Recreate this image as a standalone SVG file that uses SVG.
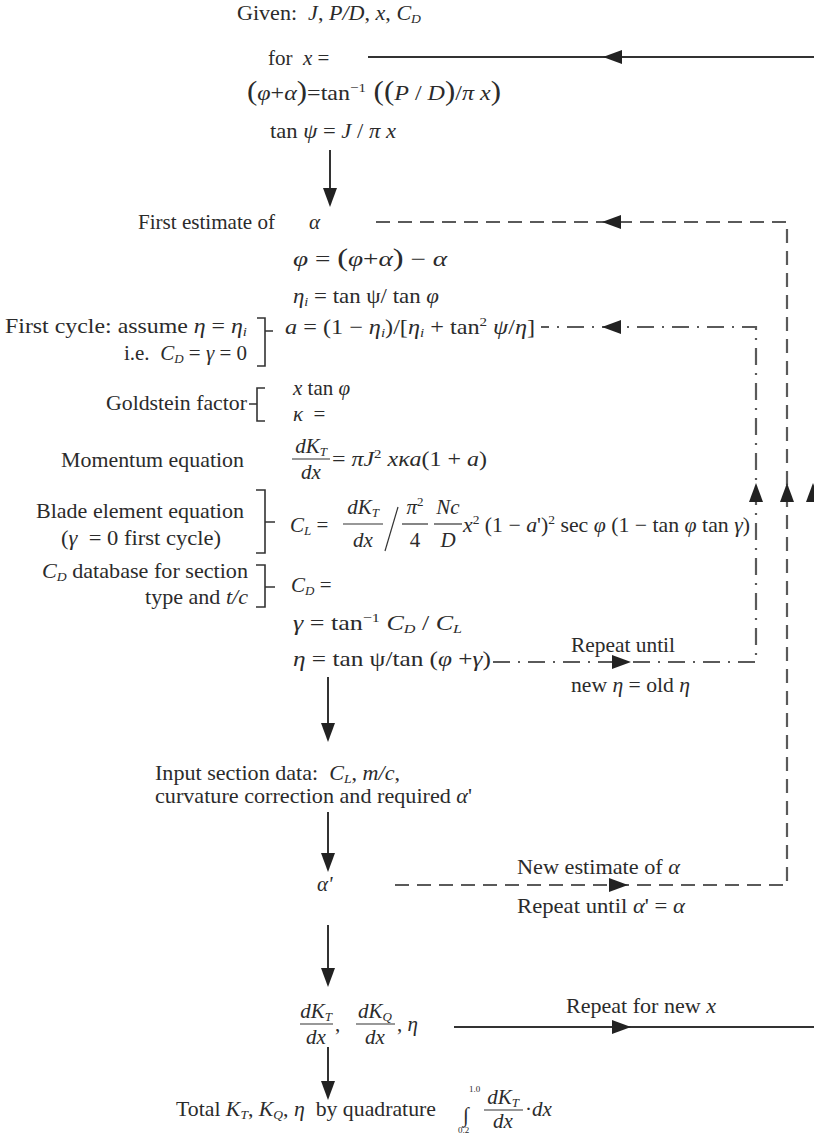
<svg xmlns="http://www.w3.org/2000/svg" width="814" height="1134" viewBox="0 0 814 1134">
<style>
text{font-family:"Liberation Serif","Times New Roman",serif;font-size:21px;fill:#2b2b2b}
.i{font-style:italic}
.s{font-size:13px}
.sm{font-size:9px}
.ln{fill:none;stroke:#333;stroke-width:2}
.da{fill:none;stroke:#5a5a5a;stroke-width:2.2;stroke-dasharray:14 8}
.dd{fill:none;stroke:#5a5a5a;stroke-width:2.2;stroke-dasharray:17 8 2 8}
.br{fill:none;stroke:#333;stroke-width:1.6}
.fb{stroke:#333;stroke-width:1.2}
</style>
<defs><path id="ah" d="M0,0 L-19,-7 L-19,7 Z" fill="#222"/></defs>
<rect width="814" height="1134" fill="#fff"/>

<g id="connectors">
<path class="ln" d="M368,57 H814"/>
<use href="#ah" transform="translate(603,57) rotate(180)"/>
<path class="ln" d="M817,1027 V57"/>
<use href="#ah" transform="translate(813,483) rotate(-90)"/>
<path class="ln" d="M330,150 V196"/>
<use href="#ah" transform="translate(330,207) rotate(90)"/>
<path class="da" d="M395,885 H787 V222 H376"/>
<use href="#ah" transform="translate(602,222) rotate(180)"/>
<use href="#ah" transform="translate(787,483) rotate(-90)"/>
<use href="#ah" transform="translate(628,885)"/>
<path class="dd" d="M493,662 H756 V327 H541"/>
<use href="#ah" transform="translate(602,327) rotate(180)"/>
<use href="#ah" transform="translate(756,483) rotate(-90)"/>
<use href="#ah" transform="translate(631,662)"/>
<path class="ln" d="M328,677 V732"/>
<use href="#ah" transform="translate(328,742) rotate(90)"/>
<path class="ln" d="M328,812 V862"/>
<use href="#ah" transform="translate(328,872) rotate(90)"/>
<path class="ln" d="M328,925 V977"/>
<use href="#ah" transform="translate(328,987) rotate(90)"/>
<path class="ln" d="M454,1027 H814"/>
<use href="#ah" transform="translate(631,1027)"/>
<path class="ln" d="M328,1047 V1090"/>
<use href="#ah" transform="translate(328,1100) rotate(90)"/>
</g>

<g id="given">
<text x="237" y="20" textLength="184" lengthAdjust="spacingAndGlyphs">Given:&#160; <tspan class="i">J</tspan>, <tspan class="i">P/D</tspan>, <tspan class="i">x</tspan>, <tspan class="i">C</tspan><tspan class="i s" dy="3">D</tspan></text>
</g>
<g id="forx">
<text x="268" y="65">for&#160; <tspan class="i">x</tspan> =</text>
<text x="247" y="100" textLength="254" lengthAdjust="spacingAndGlyphs"><tspan font-size="27">(</tspan><tspan class="i">φ</tspan>+<tspan class="i">α</tspan><tspan font-size="27">)</tspan>=tan<tspan class="s" dy="-8">−1</tspan><tspan dy="8" font-size="27"> ((</tspan><tspan class="i">P</tspan> / <tspan class="i">D</tspan><tspan font-size="27">)</tspan>/<tspan class="i">π x</tspan><tspan font-size="27">)</tspan></text>
<text x="270" y="138" textLength="126" lengthAdjust="spacingAndGlyphs">tan <tspan class="i">ψ</tspan> = <tspan class="i">J</tspan> / <tspan class="i">π x</tspan></text>
</g>

<g id="first-estimate">
<text x="138" y="229" textLength="137" lengthAdjust="spacingAndGlyphs">First estimate of</text>
<text x="309" y="229" class="i">α</text>
<text x="293" y="266" textLength="154" lengthAdjust="spacingAndGlyphs"><tspan class="i">φ</tspan> = <tspan font-size="25">(</tspan><tspan class="i">φ</tspan>+<tspan class="i">α</tspan><tspan font-size="25">)</tspan> − <tspan class="i">α</tspan></text>
<text x="293" y="303" textLength="146" lengthAdjust="spacingAndGlyphs"><tspan class="i">η</tspan><tspan class="i s" dy="3">i</tspan><tspan dy="-3"> = tan ψ/ tan </tspan><tspan class="i">φ</tspan></text>
</g>

<g id="first-cycle">
<text x="5" y="333" textLength="242" lengthAdjust="spacingAndGlyphs">First cycle: assume <tspan class="i">η</tspan> = <tspan class="i">η</tspan><tspan class="i s" dy="3">i</tspan></text>
<text x="247" y="360" text-anchor="end">i.e.&#160; <tspan class="i">C</tspan><tspan class="i s" dy="3">D</tspan><tspan dy="-3"> = </tspan><tspan class="i">γ</tspan> = 0</text>
<path class="br" d="M257,318 H265 V366 H257 M265,331 H273"/>
<text x="285" y="334" textLength="250" lengthAdjust="spacingAndGlyphs"><tspan class="i">a</tspan> = (1 − <tspan class="i">η</tspan><tspan class="i s" dy="3">i</tspan><tspan dy="-3">)/[</tspan><tspan class="i">η</tspan><tspan class="i s" dy="3">i</tspan><tspan dy="-3"> + tan</tspan><tspan class="s" dy="-8">2</tspan><tspan dy="8"> </tspan><tspan class="i">ψ</tspan>/<tspan class="i">η</tspan>]</text>
</g>

<g id="goldstein">
<text x="106" y="410" textLength="141" lengthAdjust="spacingAndGlyphs">Goldstein factor</text>
<path class="br" d="M265,388 H257 V421 H265 M249,404 H257"/>
<text x="293" y="395"><tspan class="i">x</tspan> tan <tspan class="i">φ</tspan></text>
<text x="293" y="421"><tspan class="i">κ</tspan>&#160; =</text>
</g>

<g id="momentum">
<text x="61" y="467" textLength="183" lengthAdjust="spacingAndGlyphs">Momentum equation</text>
<text x="311" y="453" text-anchor="middle" class="i">dK<tspan class="s" dy="3">T</tspan></text>
<line class="fb" x1="292" y1="459" x2="330" y2="459"/>
<text x="311" y="479" text-anchor="middle" class="i">dx</text>
<text x="332" y="466" textLength="155" lengthAdjust="spacingAndGlyphs">= <tspan class="i">πJ</tspan><tspan class="s" dy="-8">2</tspan><tspan dy="8"> </tspan><tspan class="i">xκa</tspan>(1 + <tspan class="i">a</tspan>)</text>
</g>

<g id="blade">
<text x="36" y="518" textLength="208" lengthAdjust="spacingAndGlyphs">Blade element equation</text>
<text x="61" y="545" textLength="160" lengthAdjust="spacingAndGlyphs">(<tspan class="i">γ</tspan>&#160; = 0 first cycle)</text>
<path class="br" d="M256,490 H265 V553 H256 M265,522 H275"/>
<text x="290" y="532"><tspan class="i">C</tspan><tspan class="i s" dy="3">L</tspan><tspan dy="-3"> =</tspan></text>
<text x="363" y="514" text-anchor="middle" class="i">dK<tspan class="s" dy="3">T</tspan></text>
<line class="fb" x1="343" y1="524" x2="383" y2="524"/>
<text x="363" y="547" text-anchor="middle" class="i">dx</text>
<line class="fb" x1="385" y1="551" x2="398" y2="507"/>
<text x="415" y="514" text-anchor="middle"><tspan class="i">π</tspan><tspan class="s" dy="-8">2</tspan></text>
<line class="fb" x1="402" y1="524" x2="428" y2="524"/>
<text x="415" y="547" text-anchor="middle">4</text>
<text x="448" y="514" text-anchor="middle" class="i">Nc</text>
<line class="fb" x1="434" y1="524" x2="462" y2="524"/>
<text x="448" y="547" text-anchor="middle" class="i">D</text>
<text x="463" y="532" textLength="287" lengthAdjust="spacingAndGlyphs"><tspan class="i">x</tspan><tspan class="s" dy="-8">2</tspan><tspan dy="8"> (1 − </tspan><tspan class="i">a</tspan>')<tspan class="s" dy="-8">2</tspan><tspan dy="8"> sec </tspan><tspan class="i">φ</tspan> (1 − tan <tspan class="i">φ</tspan> tan <tspan class="i">γ</tspan>)</text>
</g>

<g id="cd-database">
<text x="42" y="578" textLength="206" lengthAdjust="spacingAndGlyphs"><tspan class="i">C</tspan><tspan class="i s" dy="3">D</tspan><tspan dy="-3"> database for section</tspan></text>
<text x="145" y="604" textLength="103" lengthAdjust="spacingAndGlyphs">type and <tspan class="i">t/c</tspan></text>
<path class="br" d="M256,565 H265 V607 H256 M265,587 H275"/>
<text x="291" y="592"><tspan class="i">C</tspan><tspan class="i s" dy="3">D</tspan><tspan dy="-3"> =</tspan></text>
</g>

<g id="gamma">
<text x="293" y="630" textLength="169" lengthAdjust="spacingAndGlyphs"><tspan class="i">γ</tspan> = tan<tspan class="s" dy="-8">−1</tspan><tspan dy="8"> </tspan><tspan class="i">C</tspan><tspan class="i s" dy="3">D</tspan><tspan dy="-3"> / </tspan><tspan class="i">C</tspan><tspan class="i s" dy="3">L</tspan></text>
</g>

<g id="eta">
<text x="293" y="666" textLength="198" lengthAdjust="spacingAndGlyphs"><tspan class="i">η</tspan> = tan ψ/tan (<tspan class="i">φ</tspan> +<tspan class="i">γ</tspan>)</text>
<text x="571" y="652" textLength="104" lengthAdjust="spacingAndGlyphs">Repeat until</text>
<text x="571" y="692" textLength="119" lengthAdjust="spacingAndGlyphs">new <tspan class="i">η</tspan> = old <tspan class="i">η</tspan></text>
</g>

<g id="input-section">
<text x="155" y="780" textLength="245" lengthAdjust="spacingAndGlyphs">Input section data:&#160; <tspan class="i">C</tspan><tspan class="i s" dy="3">L</tspan><tspan dy="-3">, </tspan><tspan class="i">m/c</tspan>,</text>
<text x="155" y="803" textLength="317" lengthAdjust="spacingAndGlyphs">curvature correction and required <tspan class="i">α</tspan>'</text>
</g>

<g id="alpha-prime">
<text x="317" y="891" class="i">α'</text>
<text x="517" y="874" textLength="163" lengthAdjust="spacingAndGlyphs">New estimate of <tspan class="i">α</tspan></text>
<text x="517" y="913" textLength="168" lengthAdjust="spacingAndGlyphs">Repeat until <tspan class="i">α</tspan>' = <tspan class="i">α</tspan></text>
</g>

<g id="derivatives">
<text x="316" y="1018" text-anchor="middle" class="i">dK<tspan class="s" dy="3">T</tspan></text>
<line class="fb" x1="300" y1="1024" x2="333" y2="1024"/>
<text x="316" y="1044" text-anchor="middle" class="i">dx</text>
<text x="335" y="1031">,</text>
<text x="375" y="1018" text-anchor="middle" class="i">dK<tspan class="s" dy="3">Q</tspan></text>
<line class="fb" x1="356" y1="1024" x2="395" y2="1024"/>
<text x="375" y="1044" text-anchor="middle" class="i">dx</text>
<text x="397" y="1031">, <tspan class="i">η</tspan></text>
<text x="566" y="1013" textLength="150" lengthAdjust="spacingAndGlyphs">Repeat for new <tspan class="i">x</tspan></text>
</g>

<g id="total">
<text x="176" y="1116" textLength="260" lengthAdjust="spacingAndGlyphs">Total <tspan class="i">K</tspan><tspan class="i s" dy="3">T</tspan><tspan dy="-3">, </tspan><tspan class="i">K</tspan><tspan class="i s" dy="3">Q</tspan><tspan dy="-3">, </tspan><tspan class="i">η</tspan>&#160; by quadrature</text>
<text x="463" y="1122" font-size="26" class="i">∫</text>
<text x="469" y="1092" class="sm">1.0</text>
<text x="458" y="1133" class="sm">0.2</text>
<text x="503" y="1104" text-anchor="middle" class="i">dK<tspan class="s" dy="3">T</tspan></text>
<line class="fb" x1="484" y1="1110" x2="523" y2="1110"/>
<text x="503" y="1128" text-anchor="middle" class="i">dx</text>
<text x="525" y="1116">·<tspan class="i">dx</tspan></text>
</g>
</svg>
